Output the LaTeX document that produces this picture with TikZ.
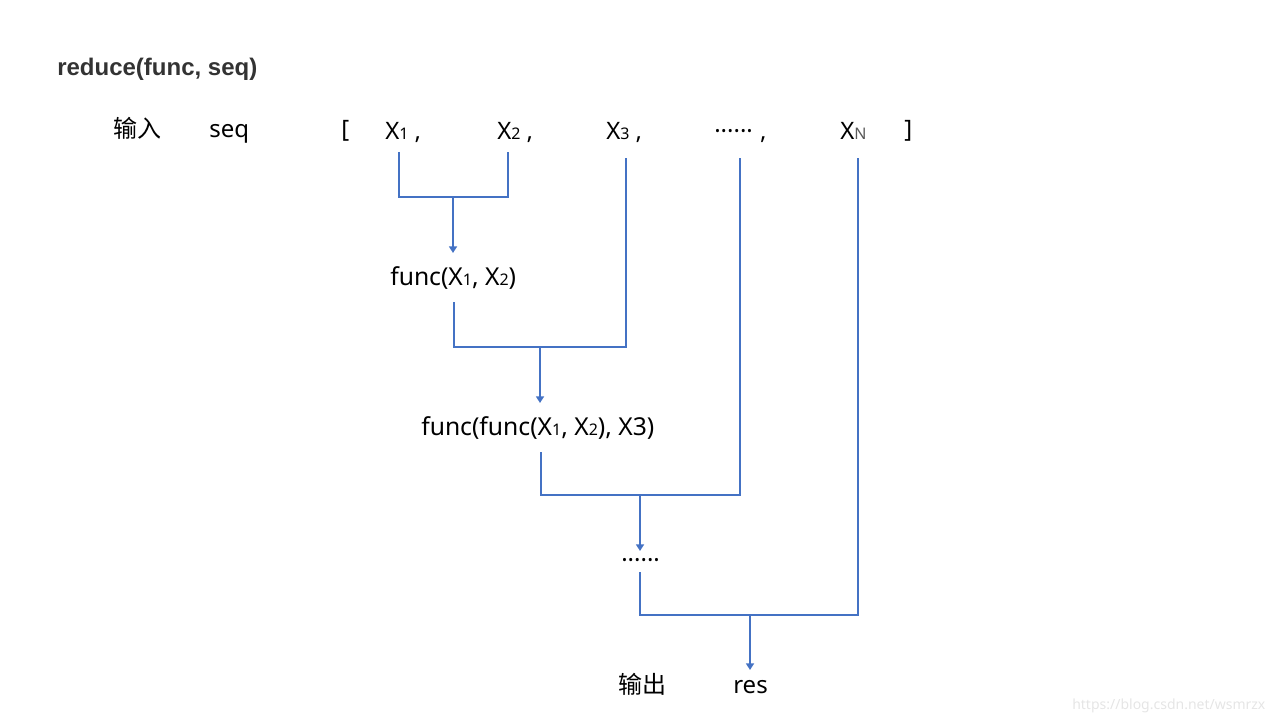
\documentclass[tikz,border=0pt]{standalone}
\usepackage{fontspec}
\setmainfont{Noto Sans}
\newfontfamily\cjk{Noto Sans CJK SC}
\newfontfamily\titlefont{Liberation Sans}
\usetikzlibrary{arrows.meta}
\definecolor{linkblue}{HTML}{4472C4}
\definecolor{titlegray}{HTML}{333333}
\newcommand{\xs}[1]{{\fontsize{12}{12}\selectfont #1}}
\begin{document}
\begin{tikzpicture}[x=0.75pt,y=-0.75pt,
  txt/.style={inner sep=0pt, anchor=base west, font=\fontsize{18}{20}\selectfont},
  link/.style={draw=linkblue, line width=1.5pt},
  arr/.style={link, -{Triangle[width=6pt,length=5pt]}}]
\useasboundingbox (0,0) rectangle (1280,720);
% texts
\node[txt, font=\titlefont\bfseries\fontsize{18}{20}\selectfont, text=titlegray] (title) at (57,76) {reduce(func, seq)};
\node[txt, font=\cjk\fontsize{18}{20}\selectfont] (in) at (113,138) {输入};
\node[txt] (seq) at (209,138) {seq};
\node[txt] (lb) at (341,138) {[};
\node[txt] (x1) at (385,140) {X\xs{1} ,};
\node[txt] (x2) at (497,140) {X\xs{2} ,};
\node[txt] (x3) at (606,140) {X\xs{3} ,};
\node[txt] (xd) at (714,140) {······\hspace{0.3em},};
\node[txt] (xn) at (840,140) {X\xs{\color{black!65}N}};
\node[txt] (rb) at (904,138) {]};
\node[txt, font=\fontsize{18.5}{20}\selectfont] (f1) at (390,285) {func(X\xs{1}, X\xs{2})};
\node[txt, font=\fontsize{18.5}{20}\selectfont] (f2) at (421,435) {func(func(X\xs{1}, X\xs{2}), X3)};
\node[txt] (f3) at (621,568) {······};
\node[txt, font=\cjk\fontsize{18}{20}\selectfont] (out) at (618,693) {输出};
\node[txt] (res) at (733,693) {res};
\node[txt, font=\fontsize{10.5}{12}\selectfont, text=black!10] (wm) at (1072,709) {https://blog.csdn.net/wsmrzx};
% junction coordinates
\coordinate (t1) at (399,152);
\coordinate (t2) at (508,152);
\coordinate (t3) at (626,158);
\coordinate (t4) at (740,158);
\coordinate (t5) at (858,158);
\coordinate (b1l) at (399,197);
\coordinate (b1r) at (508,197);
\coordinate (b1) at (453,197);
\coordinate (a1) at (453,253);
\coordinate (u1) at (454,302);
\coordinate (b2l) at (454,347);
\coordinate (b2r) at (626,347);
\coordinate (b2) at (540,347);
\coordinate (a2) at (540,403);
\coordinate (u2) at (541,452);
\coordinate (b3l) at (541,495);
\coordinate (b3r) at (740,495);
\coordinate (b3) at (640,495);
\coordinate (a3) at (640,551);
\coordinate (u3) at (640,572);
\coordinate (b4l) at (640,615);
\coordinate (b4r) at (858,615);
\coordinate (b4) at (750,615);
\coordinate (a4) at (750,670);
% connectors
\draw[link] (t1) -- (b1l) -- (b1r) -- (t2);
\draw[arr] (b1) -- (a1);
\draw[link] (u1) -- (b2l) -- (b2r) -- (t3);
\draw[arr] (b2) -- (a2);
\draw[link] (u2) -- (b3l) -- (b3r) -- (t4);
\draw[arr] (b3) -- (a3);
\draw[link] (u3) -- (b4l) -- (b4r) -- (t5);
\draw[arr] (b4) -- (a4);
\end{tikzpicture}
\end{document}
